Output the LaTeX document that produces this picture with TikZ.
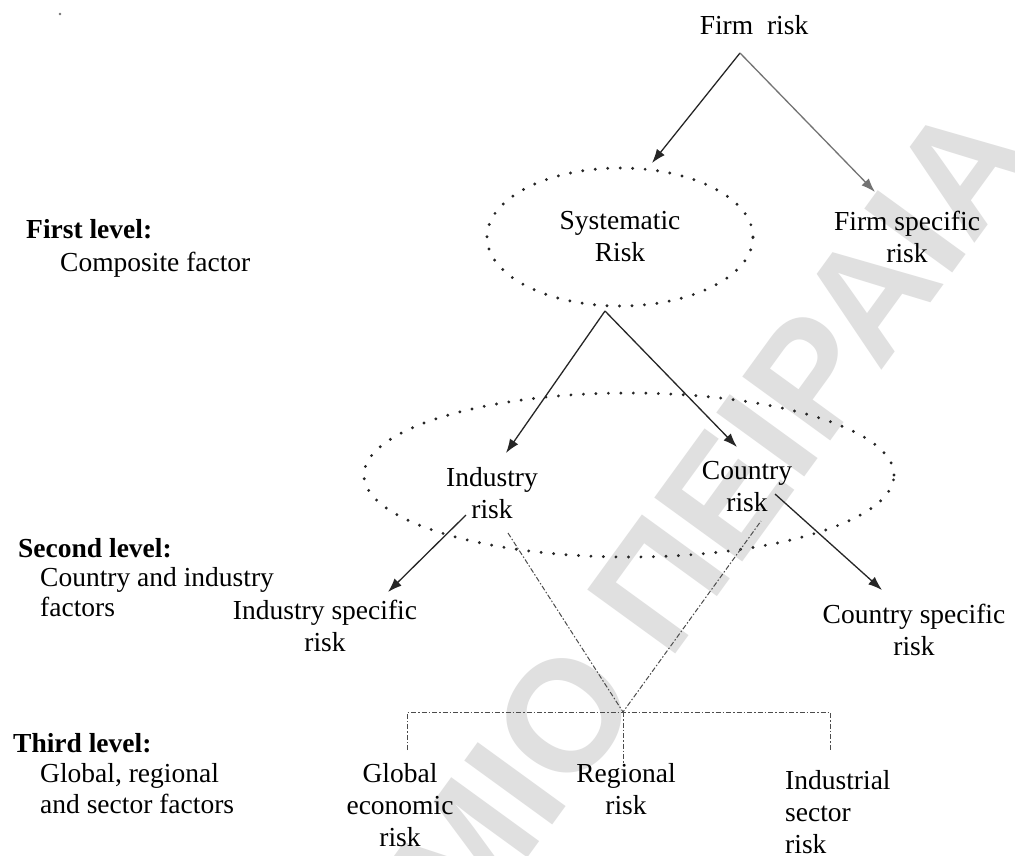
\documentclass[tikz,border=0pt]{standalone}
\usepackage{fontspec}
\setmainfont{Liberation Serif}
\newfontfamily\wmfont{Liberation Sans}
\usetikzlibrary{arrows.meta,shapes.geometric}

\begin{document}
\begin{tikzpicture}[x=1pt,y=-1pt,
  every node/.style={inner sep=0pt, font=\fontsize{27.5}{32}\selectfont},
  lbl/.style={align=center},
  head/.style={font=\fontsize{27.5}{32}\selectfont\bfseries, anchor=base west},
  desc/.style={anchor=base west},
  arr/.style={line width=1.3pt, draw=black!85, -{Latex[length=14pt,width=10pt]}},
  ring/.style={draw=black!85, line width=3.2pt, dash pattern=on 0pt off 12.5pt, line cap=round},
  link/.style={draw=black!70, line width=1pt, dash pattern=on 5pt off 2pt on 1.5pt off 2pt},
  wm/.style={font=\wmfont\bfseries\fontsize{158}{158}\selectfont, text=black!12, rotate=54, inner sep=0pt}
]
% page
\fill[white] (0,0) rectangle (1015,855);
\useasboundingbox (0,0) rectangle (1015,855);

% background lettering
\begin{scope}
  \clip (0,0) rectangle (1015,855);
  \node[wm, anchor=east] (wmA) at (600.5,666) {ΜΙΟ};
  \node[wm, anchor=west] (wmB) at (625.8,631) {ΠΕΙΡΑΙΑ};
\end{scope}

\fill[black!55] (60,14) circle (1.4);

% risk nodes
\node (firm) at (754,25.5) {Firm\ \ risk};
\node[lbl, ellipse, ring, minimum width=266pt, minimum height=138pt] (sys) at (620,237) {Systematic\\Risk};
\node[lbl] (firmspec) at (907,236.5) {Firm specific\\risk};
\node[ellipse, ring, minimum width=530pt, minimum height=164pt] (second) at (629,475) {};
\node[lbl] (ind) at (492,493.5) {Industry\\risk};
\node[lbl] (cty) at (747,486.5) {Country\\risk};
\node[lbl] (indspec) at (325,625.5) {Industry specific\\risk};
\node[lbl] (ctyspec) at (914,629.5) {Country specific\\risk};
\node[lbl] (glob) at (400,805.5) {Global\\economic\\risk};
\node[lbl] (reg) at (626,789.5) {Regional\\risk};
\node[align=left, anchor=west] (sect) at (785,812.5) {Industrial\\sector\\risk};

% level captions
\node[head] (l1) at (26,238) {First level:};
\node[desc] (l1a) at (60,271) {Composite factor};
\node[head] (l2) at (18,557) {Second level:};
\node[desc] (l2a) at (40,586) {Country and industry};
\node[desc] (l2b) at (40,616) {factors};
\node[head] (l3) at (13,752) {Third level:};
\node[desc] (l3a) at (40,782) {Global, regional};
\node[desc] (l3b) at (40,813) {and sector factors};

% connector end points
\coordinate (firmtop) at (740,53);
\coordinate (sysin) at (652,163);
\coordinate (firmspecin) at (875,192);
\coordinate (sysout) at (605,311);
\coordinate (indin) at (506,453);
\coordinate (ctyin) at (737,447);
\coordinate (indout) at (466,515);
\coordinate (indspecin) at (388,592);
\coordinate (ctyout) at (775,494);
\coordinate (ctyspecin) at (882,590);
\coordinate (indlink) at (508,533);
\coordinate (ctylink) at (761,521);
\coordinate (hub) at (623,712);
\coordinate (hubL) at (407,712);
\coordinate (hubR) at (830,712);
\coordinate (dropL) at (407,750);
\coordinate (dropM) at (623,763);
\coordinate (dropR) at (830,750);

% arrows
\draw[arr] (firmtop) -- (sysin);
\draw[arr, draw=black!55] (firmtop) -- (firmspecin);
\draw[arr] (sysout) -- (indin);
\draw[arr] (sysout) -- (ctyin);
\draw[arr] (indout) -- (indspecin);
\draw[arr] (ctyout) -- (ctyspecin);

% third level links
\draw[link] (indlink) -- (hub) -- (ctylink);
\draw[link] (dropL) -- (hubL) -- (hubR) -- (dropR);
\draw[link] (hub) -- (dropM);
\end{tikzpicture}
\end{document}
